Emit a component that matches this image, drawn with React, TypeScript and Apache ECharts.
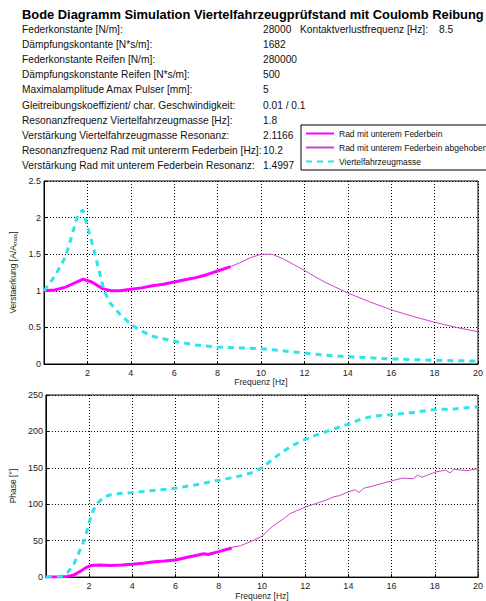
import React, { useEffect, useRef } from "react";
import * as echarts from "echarts";

const titleText = "Bode Diagramm Simulation Viertelfahrzeugprüfstand mit Coulomb Reibung";
const paramLabels = [
  "Federkonstante [N/m]:",
  "Dämpfungskontante [N*s/m]:",
  "Federkonstante Reifen [N/m]:",
  "Dämpfungskonstante Reifen [N*s/m]:",
  "Maximalamplitude Amax Pulser [mm]:",
  "Gleitreibungskoeffizient/ char. Geschwindigkeit:",
  "Resonanzfrequenz Viertelfahrzeugmasse [Hz]:",
  "Verstärkung Viertelfahrzeugmasse Resonanz:",
  "Resonanzfrequenz Rad mit untererm Federbein [Hz]:",
  "Verstärkung Rad mit unterem Federbein Resonanz:",
];
const paramValues = ["28000", "1682", "280000", "500", "5", "0.01 / 0.1", "1.8", "2.1166", "10.2", "1.4997"];
const extraLabel = "Kontaktverlustfrequenz [Hz]:";
const extraValue = "8.5";

const seriesNames = ["Rad mit unterem Federbein", "Rad mit unterem Federbein abgehoben", "Viertelfahrzeugmasse"];

// Amplitude
const ampFreqRad = [0, 0.5, 1, 1.5, 1.8, 2.2, 2.7, 3.1, 3.5, 4, 4.5, 5, 5.5, 6, 6.5, 7, 7.5, 8, 8.6];
const ampRad = [1.0, 1.01, 1.05, 1.12, 1.16, 1.12, 1.03, 1.0, 1.0, 1.02, 1.04, 1.07, 1.09, 1.12, 1.15, 1.18, 1.22, 1.27, 1.33];
const ampFreqLift = [8.6, 9, 9.5, 10, 10.5, 11, 11.5, 12, 12.5, 13, 14, 15, 16, 17, 18, 19, 20];
const ampLift = [1.33, 1.38, 1.45, 1.5, 1.5, 1.44, 1.36, 1.28, 1.19, 1.11, 0.97, 0.85, 0.74, 0.65, 0.57, 0.5, 0.44];
const ampFreqMass = [0, 0.5, 1, 1.25, 1.5, 1.65, 1.8, 2, 2.3, 2.6, 2.75, 3, 3.5, 4, 4.5, 5, 6, 7, 8, 9, 10, 11, 12, 13, 14, 16, 18, 20];
const ampMass = [1.0, 1.2, 1.47, 1.72, 1.98, 2.08, 2.1, 1.88, 1.56, 1.2, 1.02, 0.85, 0.68, 0.54, 0.45, 0.38, 0.31, 0.26, 0.23, 0.22, 0.21, 0.18, 0.15, 0.12, 0.1, 0.07, 0.05, 0.04];

// Phase
const phFreqRad = [0, 0.5, 1, 1.3, 1.6, 1.85, 2.1, 2.5, 3, 3.5, 4, 4.5, 5, 5.5, 6, 6.5, 7, 7.3, 7.5, 8, 8.6];
const phRad = [0, 0, 1, 3, 8, 13, 16, 16.5, 16, 16.5, 17.5, 19, 21, 22, 23.5, 27, 30, 32, 31, 35, 40];
const phFreqLift = [8.6, 9, 9.5, 10, 10.5, 11, 11.3, 11.6, 12, 12.3, 12.6, 13, 13.3, 13.6, 14, 14.3, 14.5, 14.7, 15, 15.5, 16, 16.5, 17, 17.2, 17.4, 18, 18.5, 18.7, 18.9, 19.5, 20];
const phLift = [41, 43, 49, 56, 70, 80, 87, 91, 96, 99, 102, 106, 110, 112, 117, 120, 116, 122, 124, 128, 132, 136, 135, 140, 137, 144, 147, 143, 148, 146, 149];
const phFreqMass = [0, 0.5, 0.8, 1, 1.3, 1.5, 1.8, 2, 2.2, 2.4, 2.7, 3, 3.5, 4, 5, 6, 7, 8, 9, 9.5, 10, 10.5, 11, 11.5, 12, 12.5, 13, 13.5, 14, 14.5, 15, 15.5, 16, 17, 18, 19, 20];
const phMass = [0, 0, 2, 6, 18, 32, 52, 75, 92, 102, 110, 113, 115, 116, 119, 122, 127, 133, 139, 143, 150, 162, 173, 182, 189, 195, 200, 205, 210, 216, 220, 222, 223, 226, 230, 231, 234];

const zip = (xs: number[], ys: number[]) => xs.map((x, i) => [x, ys[i]]);

const FONT = "'Liberation Sans', Arial, sans-serif";
const MAGENTA = "#ff00ff";
const VIOLET = "#cc44cc";
const CYAN = "#2fe3ea";

export default function App() {
  const ref = useRef<HTMLDivElement>(null);
  useEffect(() => {
    if (!ref.current) return;
    const chart = echarts.init(ref.current, null, { renderer: "svg" });

    const rowY0 = 29;
    const rowStep = 15.2;
    const graphic: any[] = [
      {
        type: "text",
        x: 22,
        y: 14,
        style: { text: titleText, font: `bold 12.9px ${FONT}`, fill: "#000", verticalAlign: "middle" },
      },
    ];
    paramLabels.forEach((t, i) => {
      graphic.push({
        type: "text",
        x: 22,
        y: rowY0 + i * rowStep,
        style: { text: t, font: `10.2px ${FONT}`, fill: "#111", verticalAlign: "middle" },
      });
      graphic.push({
        type: "text",
        x: 263,
        y: rowY0 + i * rowStep,
        style: { text: paramValues[i], font: `10.2px ${FONT}`, fill: "#111", verticalAlign: "middle" },
      });
    });
    graphic.push({
      type: "text",
      x: 300,
      y: rowY0,
      style: { text: extraLabel, font: `10.2px ${FONT}`, fill: "#111", verticalAlign: "middle" },
    });
    graphic.push({
      type: "text",
      x: 439,
      y: rowY0,
      style: { text: extraValue, font: `10.2px ${FONT}`, fill: "#111", verticalAlign: "middle" },
    });

    const xAxisBase = (gridIndex: number) => ({
      type: "value",
      gridIndex,
      min: 0,
      max: 20,
      interval: 2,
      name: "Frequenz [Hz]",
      nameLocation: "middle",
      nameGap: 13,
      nameTextStyle: { fontFamily: FONT, fontSize: 8.5, color: "#222" },
      axisLine: { show: true, lineStyle: { color: "#000", width: 1 } },
      axisTick: { show: true, inside: true, length: 3, lineStyle: { color: "#000" } },
      axisLabel: { showMinLabel: false, fontFamily: FONT, fontSize: 9, color: "#222", margin: 4 },
      splitLine: { show: true, lineStyle: { color: "#000", type: [1, 2], width: 1 } },
    });
    const yAxisBase = (gridIndex: number, max: number, interval: number, name: string, fmt?: any) => ({
      type: "value",
      gridIndex,
      min: 0,
      max,
      interval,
      name,
      nameLocation: "middle",
      nameRotate: 90,
      nameGap: 24,
      nameTextStyle: {
        fontFamily: FONT,
        fontSize: 8.5,
        color: "#222",
        rich: { sub: { fontFamily: FONT, fontSize: 6, color: "#222", verticalAlign: "bottom", padding: [4, 0, 0, 0] } },
      },
      axisLine: { show: true, lineStyle: { color: "#000", width: 1 } },
      axisTick: { show: true, inside: true, length: 3, lineStyle: { color: "#000" } },
      axisLabel: { fontFamily: FONT, fontSize: 9, color: "#222", margin: 3, formatter: fmt },
      splitLine: { show: true, lineStyle: { color: "#000", type: [1, 2], width: 1 } },
    });

    const lineSeries = (name: string, xi: number, data: number[][], color: string, width: number, dashed: boolean) => ({
      type: "line",
      name,
      xAxisIndex: xi,
      yAxisIndex: xi,
      data,
      symbol: "none",
      showSymbol: false,
      smooth: false,
      lineStyle: { color, width, type: dashed ? [6, 5] : "solid" },
      itemStyle: { color },
      z: 3,
    });

    chart.setOption({
      animation: false,
      backgroundColor: "#fff",
      graphic,
      legend: {
        show: true,
        data: seriesNames,
        orient: "vertical",
        left: 301,
        top: 125,
        itemWidth: 28,
        itemHeight: 10,
        itemGap: 5,
        padding: [4, 6, 4, 4],
        backgroundColor: "#fff",
        borderColor: "#000",
        borderWidth: 1,
        borderRadius: 0,
        itemStyle: { opacity: 0 },
        textStyle: { fontFamily: FONT, fontSize: 8.5, color: "#111" },
        selectedMode: false,
        z: 10,
      },
      grid: [
        { left: 44, top: 181, width: 441, height: 183, show: true, borderColor: "#000", borderWidth: 1, backgroundColor: "transparent" },
        { left: 44, top: 395, width: 441, height: 183, show: true, borderColor: "#000", borderWidth: 1, backgroundColor: "transparent" },
      ],
      xAxis: [xAxisBase(0), xAxisBase(1)],
      yAxis: [
        yAxisBase(0, 2.5, 0.5, "Verstaerkung [A/A{sub|max}]", (v: number) => String(v)),
        yAxisBase(1, 250, 50, "Phase [°]"),
      ],
      series: [
        lineSeries(seriesNames[0], 0, zip(ampFreqRad, ampRad), MAGENTA, 3, false),
        lineSeries(seriesNames[1], 0, zip(ampFreqLift, ampLift), VIOLET, 1, false),
        lineSeries(seriesNames[2], 0, zip(ampFreqMass, ampMass), CYAN, 3, true),
        lineSeries(seriesNames[0], 1, zip(phFreqRad, phRad), MAGENTA, 3, false),
        lineSeries(seriesNames[1], 1, zip(phFreqLift, phLift), VIOLET, 1, false),
        lineSeries(seriesNames[2], 1, zip(phFreqMass, phMass), CYAN, 3, true),
      ],
    });
    return () => chart.dispose();
  }, []);
  return <div ref={ref} style={{ width: 486, height: 601, position: "absolute", left: 0, top: 0 }} />;
}
